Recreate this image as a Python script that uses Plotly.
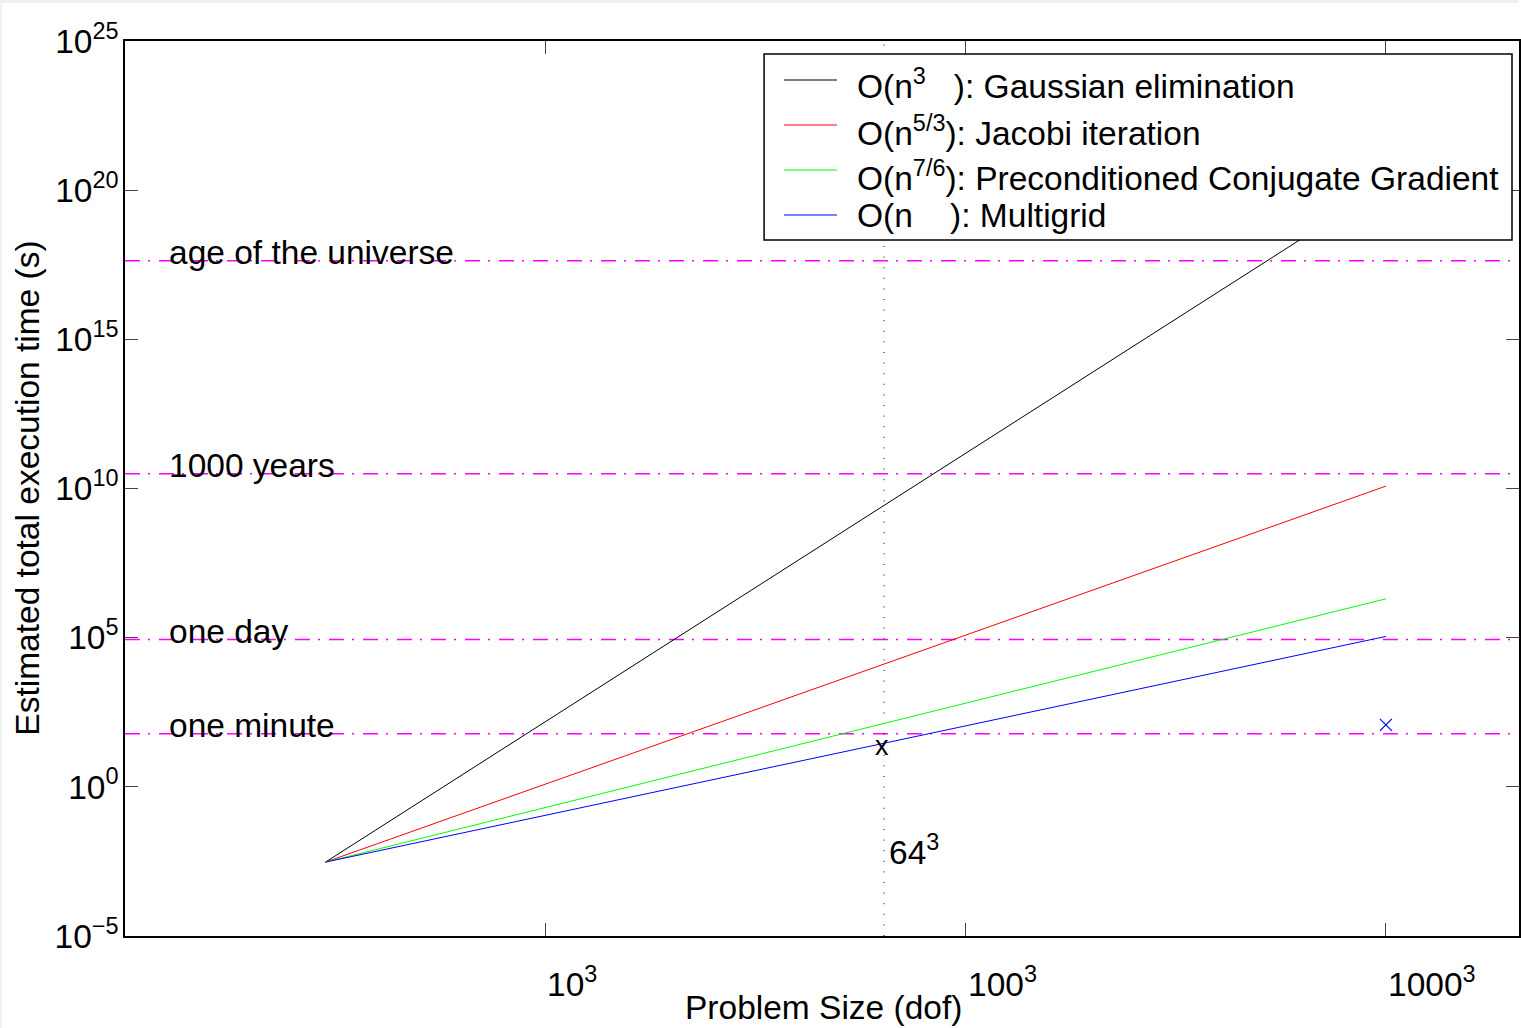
import numpy as np
import plotly.graph_objects as go

# ---- data -------------------------------------------------------------
# problem sizes (degrees of freedom) at the ends of each cost model
dof = [27, 1e9]
# estimated execution times (s) at those sizes
t_gauss = [3e-3, 1.5e20]     # O(n^3)
t_jacobi = [3e-3, 1.2e10]    # O(n^5/3)
t_pcg = [3e-3, 2.0e6]        # O(n^7/6)
t_multigrid = [3e-3, 1.1e5]  # O(n)

series_names = [
    "O(n<sup>3</sup>\u00a0\u00a0\u00a0): Gaussian elimination",
    "O(n<sup>5/3</sup>): Jacobi iteration",
    "O(n<sup>7/6</sup>): Preconditioned Conjugate Gradient",
    "O(n\u00a0\u00a0\u00a0\u00a0): Multigrid",
]
series_colors = ["#000000", "#ff0000", "#00ff00", "#0000ff"]

# reference time scales (s)
ref_labels = ["age of the universe", "1000 years", "one day", "one minute"]
ref_times = [4.3e17, 3.15e10, 86400, 60]

# marked problem size and measured run times
marked_dof = 64 ** 3
marked_label = "64<sup>3</sup>"
measured_small_t = 20
measured_large_dof = 1e9
measured_large_t = 120

x_tick_vals = [1e3, 1e6, 1e9]
x_tick_text = ["10<sup>3</sup>", "100<sup>3</sup>", "1000<sup>3</sup>"]
y_tick_exps = [-5, 0, 5, 10, 15, 20, 25]

# ---- layout geometry ---------------------------------------------------
W, H = 1521, 1028
ML, MR, MT, MB = 125, 0, 41, 92
PW, PH = W - ML - MR, H - MT - MB
FONT = "Liberation Sans, Arial, Helvetica, sans-serif"
FS = 33.5


def px(x):
    return (x - ML) / PW


def py(y):
    return (MT + PH - y) / PH


fig = go.Figure()

# reference time scales as dash-dot magenta lines
for t in ref_times:
    fig.add_trace(go.Scatter(
        x=[1, 1e10], y=[t, t], mode="lines",
        line=dict(color="#ff00ff", width=1.5, dash="15px,8px,2px,9px"),
        showlegend=False, hoverinfo="skip"))

# marked problem size
fig.add_trace(go.Scatter(
    x=[marked_dof, marked_dof], y=[1e-5, 1e25], mode="lines",
    line=dict(color="#000000", width=1, dash="1px,9.6px"),
    showlegend=False, hoverinfo="skip"))

# cost models
for name, ys, col in zip(series_names,
                         [t_gauss, t_jacobi, t_pcg, t_multigrid],
                         series_colors):
    fig.add_trace(go.Scatter(x=dof, y=ys, mode="lines", name=name,
                             line=dict(color=col, width=1), showlegend=False))

# measured run time at the largest size
fig.add_trace(go.Scatter(
    x=[measured_large_dof], y=[measured_large_t], mode="markers",
    marker=dict(symbol="x-thin-open", size=12, color="#0000ff",
                line=dict(color="#0000ff", width=1.2)),
    showlegend=False))

annotations = []
shapes = []

# labels for the reference lines
for lab, t in zip(ref_labels, ref_times):
    annotations.append(dict(
        x=np.log10(2), y=np.log10(t), xref="x", yref="y", text=lab,
        showarrow=False, xanchor="left", yanchor="middle", yshift=8,
        font=dict(family=FONT, size=FS, color="black")))

# measured point at the marked size and its label
annotations.append(dict(
    x=np.log10(marked_dof), y=np.log10(measured_small_t), xref="x", yref="y",
    text="x", showarrow=False, xanchor="center", yanchor="middle", xshift=-2,
    yshift=2, font=dict(family=FONT, size=27, color="black")))
annotations.append(dict(
    x=np.log10(marked_dof), y=-2.12, xref="x", yref="y", text=marked_label,
    showarrow=False, xanchor="left", yanchor="middle", xshift=3,
    font=dict(family=FONT, size=FS, color="black")))

# x tick labels, left-aligned on the ticks
for v, txt in zip(x_tick_vals, x_tick_text):
    annotations.append(dict(
        x=np.log10(v), y=py(982), xref="x", yref="paper", text=txt,
        showarrow=False, xanchor="left", yanchor="middle", xshift=0,
        font=dict(family=FONT, size=FS, color="black")))

# axis titles
annotations.append(dict(
    x=0.5, y=py(1008), xref="paper", yref="paper", text="Problem Size (dof)",
    showarrow=False, xanchor="center", yanchor="middle", xshift=1,
    font=dict(family=FONT, size=FS, color="black")))
annotations.append(dict(
    x=px(27), y=0.5, xref="paper", yref="paper",
    text="Estimated total execution time (s)", textangle=-90,
    showarrow=False, xanchor="center", yanchor="middle",
    font=dict(family=FONT, size=FS, color="black")))

# legend box
shapes.append(dict(type="rect", xref="paper", yref="paper",
                   x0=px(765), x1=px(1514), y0=py(240), y1=py(54),
                   fillcolor="white", line=dict(color="black", width=1.5),
                   layer="above"))
row_line_y = [80, 125, 170, 215]
row_text_y = [84, 131, 176, 216]
for name, col, ly, ty in zip(series_names, series_colors, row_line_y, row_text_y):
    shapes.append(dict(type="line", xref="paper", yref="paper",
                       x0=px(785), x1=px(838), y0=py(ly), y1=py(ly),
                       line=dict(color=col, width=1.2), layer="above"))
    annotations.append(dict(
        x=px(856), y=py(ty), xref="paper", yref="paper", text=name,
        showarrow=False, xanchor="left", yanchor="middle",
        font=dict(family=FONT, size=FS, color="black")))

# light frame strips along the top and left edges
shapes.append(dict(type="rect", xref="paper", yref="paper",
                   x0=px(0), x1=px(W), y0=py(3), y1=py(0),
                   fillcolor="#f0f0f0", line=dict(width=0), layer="below"))
shapes.append(dict(type="rect", xref="paper", yref="paper",
                   x0=px(0), x1=px(2), y0=py(H), y1=py(0),
                   fillcolor="#f0f0f0", line=dict(width=0), layer="below"))

fig.update_layout(
    width=W, height=H,
    margin=dict(l=ML, r=MR, t=MT, b=MB, pad=0),
    paper_bgcolor="white", plot_bgcolor="white",
    font=dict(family=FONT, size=FS, color="black"),
    showlegend=False,
    annotations=annotations, shapes=shapes,
    xaxis=dict(type="log", range=[0, PW / 140.3], showgrid=False,
               zeroline=False, showline=True, linecolor="black", linewidth=1.5,
               mirror="ticks", ticks="inside", ticklen=13, tickwidth=1.3,
               tickcolor="#444", tickvals=x_tick_vals, showticklabels=False),
    yaxis=dict(type="log", range=[-5, 25], showgrid=False, zeroline=False,
               showline=True, linecolor="black", linewidth=1.5,
               mirror="ticks", ticks="inside", ticklen=13, tickwidth=1.3,
               tickcolor="#444",
               tickvals=[10.0 ** e for e in y_tick_exps],
               ticktext=["10<sup>" + str(e).replace("-", "\u2212") + "</sup>"
                         for e in y_tick_exps],
               ticklabelstandoff=-2,
               tickfont=dict(family=FONT, size=FS, color="black")),
)

fig.write_html("out.html")
